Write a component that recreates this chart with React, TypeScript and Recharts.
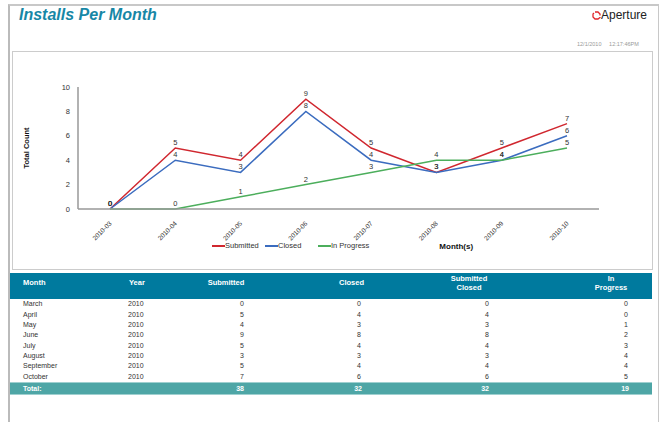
import React from "react";
import { LineChart, Line, XAxis, YAxis, Legend, LabelList, Label } from "recharts";

const periods = ["2010-03", "2010-04", "2010-05", "2010-06", "2010-07", "2010-08", "2010-09", "2010-10"];
const monthNames = ["March", "April", "May", "June", "July", "August", "September", "October"];
const years = ["2010", "2010", "2010", "2010", "2010", "2010", "2010", "2010"];
const submitted = [0, 5, 4, 9, 5, 3, 5, 7];
const closed = [0, 4, 3, 8, 4, 3, 4, 6];
const submittedClosed = [0, 4, 3, 8, 4, 3, 4, 6];
const inProgress = [0, 0, 1, 2, 3, 4, 4, 5];
const totals = ["38", "32", "32", "19"];
const yTicks = [0, 2, 4, 6, 8, 10];
const seriesNames = ["Submitted", "Closed", "In Progress"];

const FONT = '"Liberation Sans", Arial, sans-serif';
const TEXT = "#333";

const data = periods.map((p, i) => ({
  period: p,
  submitted: submitted[i],
  closed: closed[i],
  inProgress: inProgress[i],
}));

function MonthTick({ x, y, payload }: any) {
  const ax = x + 2;
  const ay = y + 15;
  return (
    <text x={ax} y={ay} transform={`rotate(-45, ${ax}, ${ay})`} textAnchor="end" fontSize={6.5} fill={TEXT} fontFamily={FONT}>
      {payload.value}
    </text>
  );
}

function YTitle({ viewBox }: any) {
  const x = viewBox.x;
  const y = viewBox.y + viewBox.height / 2;
  return (
    <text x={x} y={y} transform={`rotate(-90, ${x}, ${y})`} textAnchor="middle" dominantBaseline="central" fontSize={7.5} fontWeight="bold" fill="#111" fontFamily={FONT}>
      Total Count
    </text>
  );
}

function XTitle({ viewBox }: any) {
  return (
    <text x={viewBox.x + viewBox.width * 0.726} y={viewBox.y + viewBox.height} textAnchor="middle" fontSize={8} fontWeight="bold" fill="#111" fontFamily={FONT}>
      Month(s)
    </text>
  );
}

function PointLabel(props: any) {
  const vb = props.viewBox || {};
  const x = vb.x ?? props.x;
  const y = vb.y ?? props.y;
  if (x == null || y == null) return null;
  return (
    <text x={x} y={y - 3} textAnchor="middle" fontSize={7.5} fill={TEXT} fontFamily={FONT}>
      {props.value}
    </text>
  );
}

function LegendContent({ payload }: any) {
  const items = [...(payload || [])].sort((a: any, b: any) => seriesNames.indexOf(a.value) - seriesNames.indexOf(b.value));
  return (
    <div style={{ display: "flex", fontFamily: FONT, fontSize: 7.5, color: TEXT, lineHeight: "12px" }}>
      {items.map((item: any) => (
        <div key={item.value} style={{ display: "flex", alignItems: "center", width: 53 }}>
          <span style={{ display: "inline-block", width: 13, height: 1.5, background: item.color }} />
          <span>{item.value}</span>
        </div>
      ))}
    </div>
  );
}

function Cell({ text, left, right, center, y, bold, color, size }: any) {
  const style: React.CSSProperties = {
    position: "absolute",
    top: y - 5,
    height: 10,
    lineHeight: "10px",
    fontSize: size ?? 7,
    fontWeight: bold ? "bold" : "normal",
    color: color ?? TEXT,
    whiteSpace: "nowrap",
  };
  if (left !== undefined) {
    style.left = left;
  } else if (right !== undefined) {
    style.left = right - 80;
    style.width = 80;
    style.textAlign = "right";
  } else {
    style.left = center - 50;
    style.width = 100;
    style.textAlign = "center";
  }
  return <div style={style}>{text}</div>;
}

export default function App() {
  const rowY = (i: number) => 304.3 + i * 10.35;
  return (
    <div style={{ position: "absolute", left: 0, top: 0, width: 662, height: 422, background: "#fff", fontFamily: FONT, overflow: "hidden" }}>
      {/* page frame */}
      <div style={{ position: "absolute", left: 8, top: 4, width: 651, height: 430, borderLeft: "2px solid #bbb", borderTop: "2px solid #c8c8c8", borderRight: "1px solid #c8c8c8", boxSizing: "border-box" }} />

      <div style={{ position: "absolute", left: 19, top: 5, fontSize: 16, fontWeight: "bold", fontStyle: "italic", color: "#1787a6", lineHeight: "20px" }}>
        Installs Per Month
      </div>

      <svg style={{ position: "absolute", left: 592, top: 11 }} width={9} height={9}>
        <path d="M3 1 L6 1 L8 3 L8 4.5 M8 6 L8 6.5 L6 8 L3 8 L1 6 L1 3 L2 2" fill="none" stroke="#e0262b" strokeWidth={1.3} />
      </svg>
      <div style={{ position: "absolute", left: 601, top: 8, fontSize: 12, color: "#222", lineHeight: "14px" }}>Aperture</div>
      <div style={{ position: "absolute", left: 577, top: 41, fontSize: 5.5, color: "#999", lineHeight: "7px", whiteSpace: "nowrap" }}>
        12/1/2010&nbsp;&nbsp;&nbsp;&nbsp;&nbsp;12:17:46PM
      </div>

      {/* chart box */}
      <div style={{ position: "absolute", left: 12, top: 51, width: 641, height: 219, border: "1px solid #ccc", boxSizing: "border-box" }} />
      <div style={{ position: "absolute", left: 12, top: 51 }}>
        <LineChart width={640} height={218} data={data} margin={{ top: 36, right: 53, left: 14, bottom: 20 }}>
          <XAxis
            dataKey="period"
            padding={{ left: 32, right: 32 }}
            height={40}
            tickLine={false}
            tickSize={0}
            tickMargin={0}
            interval={0}
            axisLine={{ stroke: "#999", strokeWidth: 1.5 }}
            tick={<MonthTick />}
          >
            <Label content={<XTitle />} />
          </XAxis>
          <YAxis
            width={52}
            domain={[0, 10]}
            ticks={yTicks}
            tickLine={false}
            axisLine={{ stroke: "#999", strokeWidth: 1.5 }}
            tick={{ fontSize: 7.5, fill: TEXT, fontFamily: FONT }}
          >
            <Label content={<YTitle />} />
          </YAxis>
          <Legend
            verticalAlign="middle"
            align="center"
            layout="horizontal"
            wrapperStyle={{ left: 200, top: 189, width: 180, height: 12 }}
            content={<LegendContent />}
          />
          <Line dataKey="submitted" name="Submitted" stroke="#d0272f" strokeWidth={1.5} dot={false} isAnimationActive={false}>
            <LabelList dataKey="submitted" content={<PointLabel />} />
          </Line>
          <Line dataKey="closed" name="Closed" stroke="#3b6cbf" strokeWidth={1.5} dot={false} isAnimationActive={false}>
            <LabelList dataKey="closed" content={<PointLabel />} />
          </Line>
          <Line dataKey="inProgress" name="In Progress" stroke="#4cae5c" strokeWidth={1.5} dot={false} isAnimationActive={false}>
            <LabelList dataKey="inProgress" content={<PointLabel />} />
          </Line>
        </LineChart>
      </div>

      {/* table header */}
      <div style={{ position: "absolute", left: 10, top: 273, width: 642, height: 26, background: "#007a9e" }} />
      <Cell text="Month" left={23} y={283} bold color="#fff" size={7.5} />
      <Cell text="Year" left={129} y={283} bold color="#fff" size={7.5} />
      <Cell text="Submitted" center={226} y={283} bold color="#fff" size={7.5} />
      <Cell text="Closed" center={351.5} y={283} bold color="#fff" size={7.5} />
      <Cell text="Submitted" center={469} y={279} bold color="#fff" size={7.5} />
      <Cell text="Closed" center={469} y={287.5} bold color="#fff" size={7.5} />
      <Cell text="In" center={611} y={279} bold color="#fff" size={7.5} />
      <Cell text="Progress" center={611} y={287.5} bold color="#fff" size={7.5} />

      {monthNames.map((m, i) => (
        <React.Fragment key={m}>
          <Cell text={m} left={23} y={rowY(i)} />
          <Cell text={years[i]} left={128} y={rowY(i)} />
          <Cell text={String(submitted[i])} right={244} y={rowY(i)} />
          <Cell text={String(closed[i])} right={361} y={rowY(i)} />
          <Cell text={String(submittedClosed[i])} right={489} y={rowY(i)} />
          <Cell text={String(inProgress[i])} right={628} y={rowY(i)} />
        </React.Fragment>
      ))}

      {/* totals */}
      <div style={{ position: "absolute", left: 10, top: 382, width: 642, height: 13, background: "#4ea6a6", borderTop: "1px solid #9fd0d0", borderBottom: "1px solid #9fd0d0", boxSizing: "border-box" }} />
      <Cell text="Total:" left={23} y={388.5} bold color="#fff" />
      <Cell text={totals[0]} right={244} y={388.5} bold color="#fff" />
      <Cell text={totals[1]} right={362} y={388.5} bold color="#fff" />
      <Cell text={totals[2]} right={489} y={388.5} bold color="#fff" />
      <Cell text={totals[3]} right={629} y={388.5} bold color="#fff" />
    </div>
  );
}
